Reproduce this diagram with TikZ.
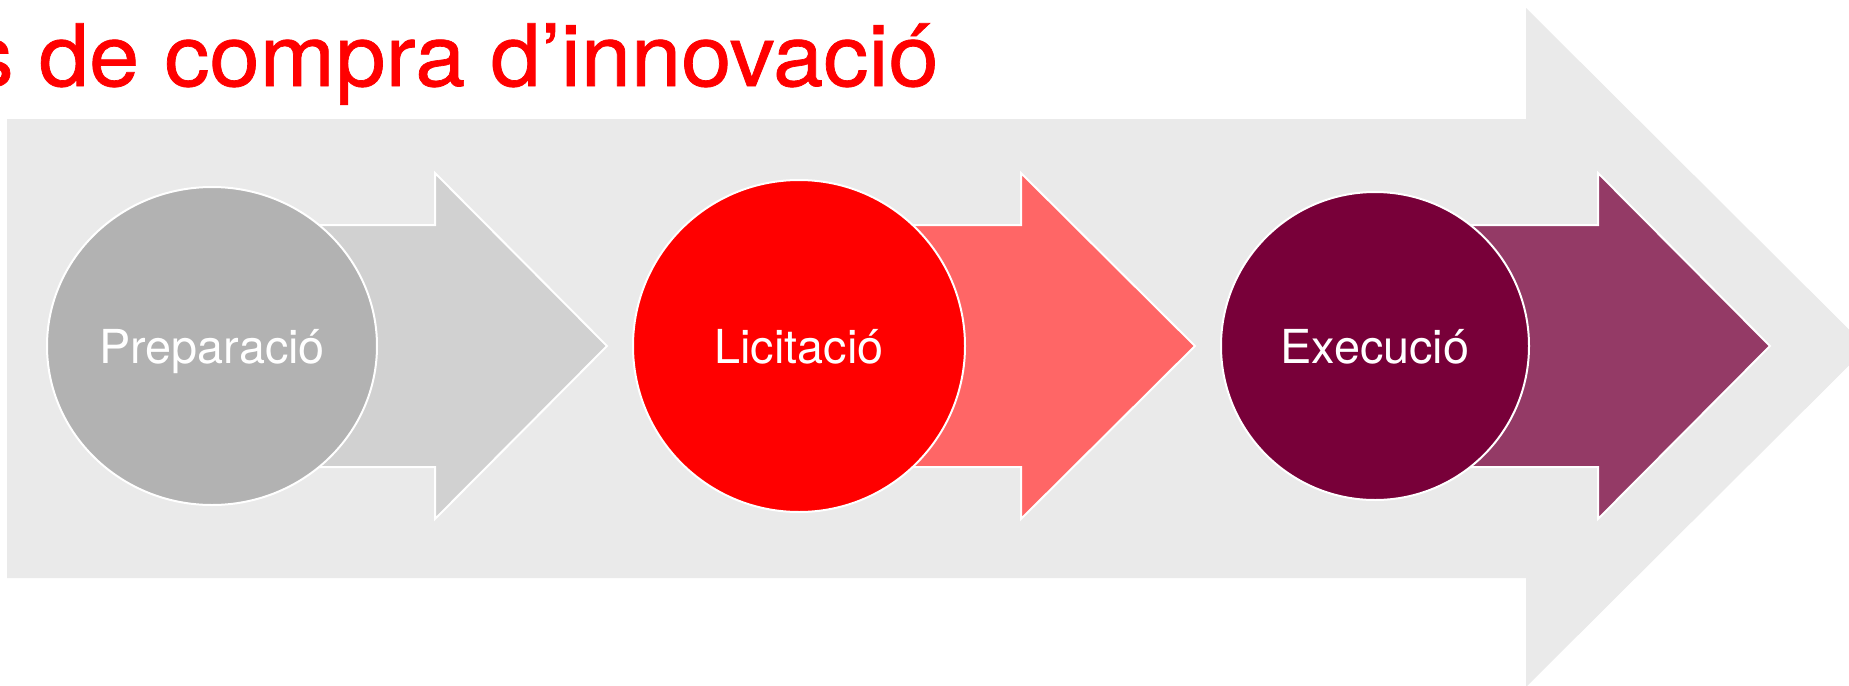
\documentclass[tikz,border=0pt]{standalone}
\usepackage{fontspec}
\setmainfont{TeX Gyre Heros}
\usetikzlibrary{shapes.geometric}
\newfontface\titlefnt{TeX Gyre Heros}[FakeBold=0.8]
\definecolor{bgarrow}{HTML}{EAEAEA}
\definecolor{grayarrow}{HTML}{D1D1D1}
\definecolor{graycirc}{HTML}{B2B2B2}
\definecolor{redarrow}{HTML}{FF6666}
\definecolor{redcirc}{HTML}{FF0000}
\definecolor{winearrow}{HTML}{943A66}
\definecolor{winecirc}{HTML}{780039}
\definecolor{titlered}{HTML}{FF0000}
\tikzset{
  stagearrow/.style={draw=white,line width=1pt,line join=miter},
  stagecirc/.style={draw=white,line width=1pt,inner sep=0pt,text=white,
    font=\fontsize{23.4}{28}\selectfont,text height=17pt,text depth=0pt},
}
\begin{document}
\begin{tikzpicture}[x=0.5pt,y=-0.5pt]
\clip (0,0) rectangle (1849,686);
\fill[white] (0,0) rectangle (1849,686);
% big background arrow
\fill[bgarrow] (7,119) -- (1526,119) -- (1526,8) -- (1867,347.5) -- (1526,687) -- (1526,578) -- (7,578) -- cycle;
% title
\node[anchor=base east,inner sep=0pt,text=titlered] (title) at (939,86) {\scalebox{1.05}[1]{\titlefnt\fontsize{43}{50}\selectfont s de compra d’innovació}};
% stage 1
\path[stagearrow,fill=grayarrow] (212,225) -- (435,225) -- (435,173) -- (607,346) -- (435,519) -- (435,467) -- (212,467) -- cycle;
\node[stagecirc,ellipse,fill=graycirc,minimum width=165pt,minimum height=159pt] (prep) at (212,346) {Preparació};
% stage 2
\path[stagearrow,fill=redarrow] (799,225) -- (1021,225) -- (1021,173) -- (1195,346) -- (1021,519) -- (1021,467) -- (799,467) -- cycle;
\node[stagecirc,circle,fill=redcirc,minimum size=166pt] (lic) at (799,346) {Licitació};
% stage 3
\path[stagearrow,fill=winearrow] (1375,225) -- (1598,225) -- (1598,173) -- (1770,346) -- (1598,519) -- (1598,467) -- (1375,467) -- cycle;
\node[stagecirc,circle,fill=winecirc,minimum size=154pt] (exe) at (1375,346) {Execució};
\end{tikzpicture}
\end{document}
